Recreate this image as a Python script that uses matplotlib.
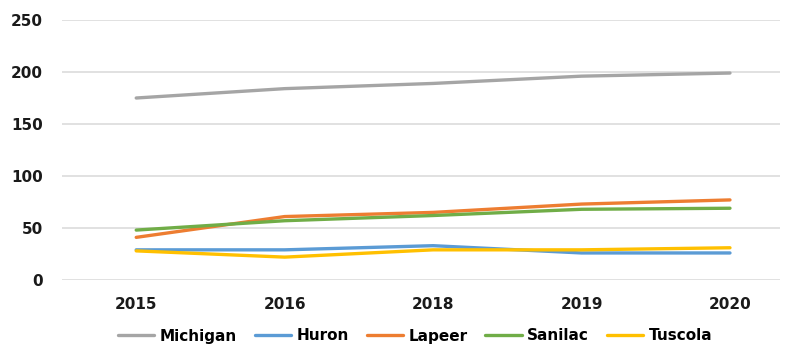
import matplotlib.pyplot as plt

years = ["2015", "2016", "2018", "2019", "2020"]
michigan = [175, 184, 189, 196, 199]
huron = [29, 29, 33, 26, 26]
lapeer = [41, 61, 65, 73, 77]
sanilac = [48, 57, 62, 68, 69]
tuscola = [28, 22, 29, 29, 31]

series = [
    ("Michigan", michigan, "#A5A5A5"),
    ("Huron", huron, "#5B9BD5"),
    ("Lapeer", lapeer, "#ED7D31"),
    ("Sanilac", sanilac, "#70AD47"),
    ("Tuscola", tuscola, "#FFC000"),
]

fig = plt.figure(figsize=(7.86, 3.45), dpi=100)
ax = fig.add_axes([62 / 786, 1 - 280 / 345, (780 - 62) / 786, 260 / 345])

x = range(len(years))
for name, values, color in series:
    ax.plot(x, values, color=color, linewidth=2.4, label=name, solid_capstyle="round")

ax.set_xlim(-0.5, 4.337)
ax.set_ylim(0, 250)
ax.set_yticks([0, 50, 100, 150, 200, 250])
ax.set_xticks(list(x))
ax.set_xticklabels(years)
ax.yaxis.grid(True, color="#DCDCDC", linewidth=1.2)
ax.set_axisbelow(True)
for side in ax.spines.values():
    side.set_visible(False)
ax.tick_params(axis="both", length=0, labelsize=11, labelcolor="#1a1a1a")
ax.tick_params(axis="y", pad=13.5)
ax.tick_params(axis="x", pad=12)
for lbl in ax.get_xticklabels() + ax.get_yticklabels():
    lbl.set_fontweight("bold")

fig.legend(
    loc="center",
    bbox_to_anchor=(0.528, 1 - 336 / 345),
    ncol=5,
    frameon=False,
    prop={"weight": "bold", "size": 11},
    handlelength=2.4,
    columnspacing=1.15,
    handletextpad=0.35,
)

fig.savefig("out.png", dpi=100)
